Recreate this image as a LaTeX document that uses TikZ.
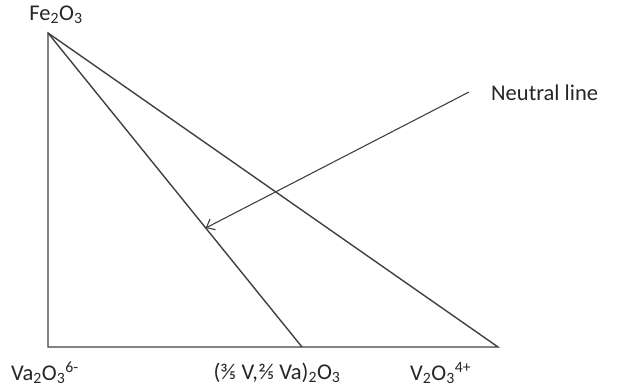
\documentclass[tikz,border=0pt]{standalone}
\usepackage{fontspec}
\setmainfont{Carlito}
\usetikzlibrary{arrows.meta,calc}
\begin{document}
\begin{tikzpicture}[x=1pt,y=-1pt,
  edge/.style={draw=black!75,line width=1.4pt},
  lbl/.style={font=\fontsize{22.5}{26}\selectfont,text=black!85,inner sep=0pt}]
\useasboundingbox (0,0) rectangle (617,390);
\coordinate (A) at (48,33);
\coordinate (B) at (48,347);
\coordinate (C) at (498,347);
\coordinate (M) at (302,347);
\coordinate (S) at (469,92);
\coordinate (E) at ($(A)!0.621!(M)$);
\draw[edge] (A) -- (B) -- (C) -- cycle;
\draw[edge] (A) -- (M);
\draw[edge,line width=1.1pt,-{Straight Barb[length=7pt,width=12pt]}] (S) -- (E);
\node[lbl] (fe) at (56,15) {Fe\textsubscript{2}O\textsubscript{3}};
\node[lbl,anchor=west] (nl) at (491,93) {Neutral line};
\node[lbl,anchor=west] (va) at (11,373) {Va\textsubscript{2}O\textsubscript{3}\textsuperscript{6-}};
\node[lbl] (mid) at (277,373) {(⅗ V,⅖ Va)\textsubscript{2}O\textsubscript{3}};
\node[lbl,anchor=west] (v) at (410,373) {V\textsubscript{2}O\textsubscript{3}\textsuperscript{4+}};
\end{tikzpicture}
\end{document}
